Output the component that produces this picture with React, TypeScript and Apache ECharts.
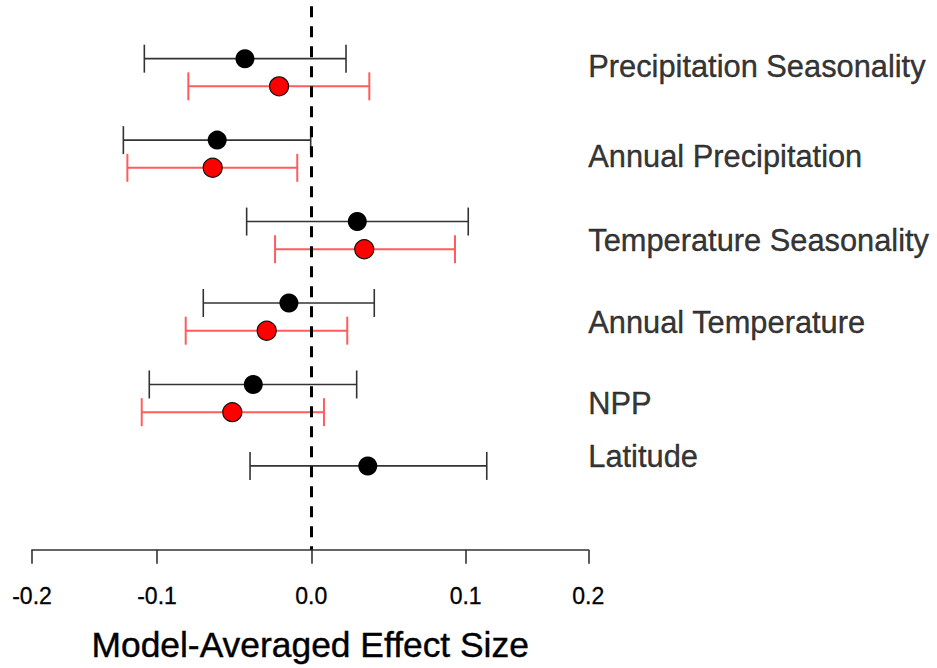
import React, { useEffect, useRef } from "react";
import * as echarts from "echarts";

const categories = [
  "Precipitation Seasonality",
  "Annual Precipitation",
  "Temperature Seasonality",
  "Annual Temperature",
  "NPP",
  "Latitude",
];
const blackEst = [-0.043, -0.061, 0.0298, -0.0145, -0.0376, 0.0366];
const blackLower = [-0.1082, -0.1218, -0.0419, -0.07, -0.105, -0.0397];
const blackUpper = [0.0225, -0.0004, 0.1017, 0.0408, 0.0294, 0.1137];
const redEst: (number | null)[] = [-0.0209, -0.0639, 0.0343, -0.0289, -0.0512, null];
const redLower: (number | null)[] = [-0.0797, -0.1192, -0.0235, -0.0814, -0.1099, null];
const redUpper: (number | null)[] = [0.0376, -0.0091, 0.0931, 0.0233, 0.0082, null];

const tickLabels = ["-0.2", "-0.1", "0.0", "0.1", "0.2"];
const innerTicks = [-0.1, 0, 0.1];
const axisMin = -0.181;
const axisMax = 0.1795;
const xTitle = "Model-Averaged Effect Size";

const FONT = "'Liberation Sans', Arial, Helvetica, sans-serif";

export default function App() {
  const ref = useRef<HTMLDivElement>(null);
  useEffect(() => {
    const chart = echarts.init(ref.current!, null, { renderer: "svg" });
    // layout: row spacing units, red row offset and label nudges
    const redOffset = 0.34;
    const labelNudge = [0.094, 0.207, 0.238, 0.244, 0.232, -0.11];
    const tickValues = [axisMin, ...innerTicks, axisMax];
    const fmt = (v: number) => {
      const idx = tickValues.findIndex((t) => Math.abs(t - v) < 1e-6);
      return idx >= 0 ? tickLabels[idx] : "";
    };

    const blackPts = categories.map((_, i) => [blackEst[i], i]);
    const redPts: number[][] = [];
    const redBars: number[][] = [];
    categories.forEach((_, i) => {
      if (redEst[i] != null) {
        redPts.push([redEst[i] as number, i + redOffset]);
        redBars.push([i + redOffset, redLower[i] as number, redUpper[i] as number]);
      }
    });
    const blackBars = categories.map((_, i) => [i, blackLower[i], blackUpper[i]]);
    const labelPts = categories.map((c, i) => ({
      name: c,
      value: [axisMax, i + labelNudge[i]],
    }));

    const errorBar = (color: string, width: number) => (params: any, api: any) => {
      const y = api.value(0);
      const p1 = api.coord([api.value(1), y]);
      const p2 = api.coord([api.value(2), y]);
      const cap = 14;
      const style = { stroke: color, lineWidth: width };
      return {
        type: "group",
        children: [
          { type: "line", shape: { x1: p1[0], y1: p1[1], x2: p2[0], y2: p2[1] }, style },
          { type: "line", shape: { x1: p1[0], y1: p1[1] - cap, x2: p1[0], y2: p1[1] + cap }, style },
          { type: "line", shape: { x1: p2[0], y1: p2[1] - cap, x2: p2[0], y2: p2[1] + cap }, style },
        ],
      };
    };

    chart.setOption({
      animation: false,
      textStyle: { fontFamily: FONT },
      grid: { left: 32, right: 348.7, top: 6.2, bottom: 114.5, containLabel: false },
      xAxis: {
        type: "value",
        min: axisMin,
        max: axisMax,
        splitLine: { show: false },
        axisLine: { show: true, onZero: false, lineStyle: { color: "#333", width: 1.6 } },
        axisTick: { show: true, customValues: tickValues, length: 14, lineStyle: { color: "#333", width: 1.6 } },
        axisLabel: {
          customValues: tickValues,
          formatter: fmt,
          fontSize: 23,
          color: "#000",
          margin: 35,
          fontFamily: FONT,
          textBorderColor: "#000",
          textBorderWidth: 0.3,
        },
        name: xTitle,
        nameLocation: "middle",
        nameGap: 78,
        nameTextStyle: {
          fontSize: 35.4,
          color: "#000",
          fontFamily: FONT,
          textBorderColor: "#000",
          textBorderWidth: 0.4,
        },
      },
      yAxis: { type: "value", inverse: true, min: -0.644, max: 6.03, show: false },
      series: [
        {
          type: "custom",
          name: "blackBars",
          renderItem: errorBar("#333", 1.6),
          encode: { x: [1, 2], y: 0 },
          data: blackBars,
          z: 2,
        },
        {
          type: "custom",
          name: "redBars",
          renderItem: errorBar("#ff5c5c", 2),
          encode: { x: [1, 2], y: 0 },
          data: redBars,
          z: 2,
        },
        {
          type: "scatter",
          name: "black",
          data: blackPts,
          symbol: "circle",
          symbolSize: 19,
          itemStyle: { color: "#000", opacity: 1 },
          z: 5,
          markLine: {
            silent: true,
            symbol: "none",
            label: { show: false },
            lineStyle: { type: [11, 9], width: 3, color: "#000" },
            data: [{ xAxis: 0 }],
          },
        },
        {
          type: "scatter",
          name: "red",
          data: redPts,
          symbol: "circle",
          symbolSize: 19,
          itemStyle: { color: "#ff0000", borderColor: "#111", borderWidth: 1.2, opacity: 1 },
          z: 5,
        },
        {
          type: "scatter",
          name: "labels",
          data: labelPts,
          symbolSize: 0,
          silent: true,
          label: {
            show: true,
            position: "right",
            distance: 0,
            formatter: "{b}",
            fontSize: 30.8,
            color: "#000",
            fontFamily: FONT,
            textBorderColor: "#000",
            textBorderWidth: 0.4,
          },
          z: 6,
        },
      ],
    });
    return () => chart.dispose();
  }, []);
  return (
    <div
      ref={ref}
      style={{ position: "fixed", left: 0, top: 0, width: 937, height: 668, background: "#fff" }}
    />
  );
}
